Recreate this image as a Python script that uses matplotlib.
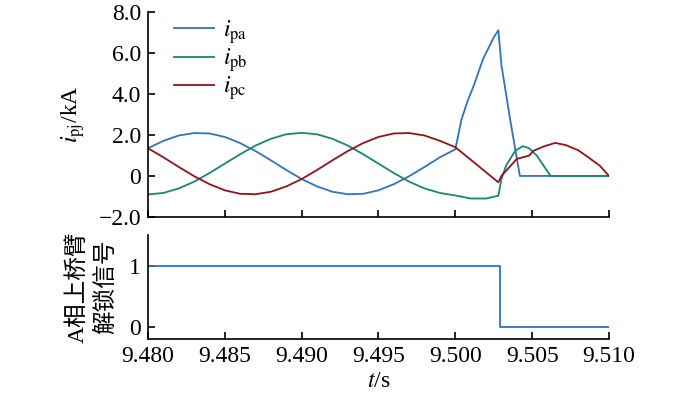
import matplotlib
matplotlib.use("Agg")
from matplotlib import pyplot as plt

plt.rcParams['font.family'] = ['Liberation Serif', 'Noto Sans CJK SC']
plt.rcParams['mathtext.fontset'] = 'stix'

# time (s) and currents (kA)
t_pa = [9.480, 9.481, 9.482, 9.483, 9.484, 9.485, 9.486, 9.487, 9.488, 9.489,
        9.490, 9.491, 9.492, 9.493, 9.494, 9.495, 9.496, 9.497, 9.498, 9.499,
        9.500, 9.5004, 9.5008, 9.5012, 9.5018, 9.5025, 9.5028, 9.5030, 9.5036,
        9.5042, 9.510]
i_pa = [1.35, 1.71, 1.97, 2.09, 2.07, 1.90, 1.60, 1.21, 0.76, 0.29,
        -0.15, -0.51, -0.77, -0.89, -0.87, -0.70, -0.40, -0.01, 0.44, 0.91,
        1.30, 2.75, 3.65, 4.40, 5.69, 6.75, 7.10, 5.40, 2.60,
        0.0, 0.0]

t_pb = [9.480, 9.481, 9.482, 9.483, 9.484, 9.485, 9.486, 9.487, 9.488, 9.489,
        9.490, 9.491, 9.492, 9.493, 9.494, 9.495, 9.496, 9.497, 9.498, 9.499,
        9.500, 9.501, 9.502, 9.5028, 9.5030, 9.5033, 9.5039, 9.5044, 9.5048,
        9.5053, 9.5062, 9.510]
i_pb = [-0.90, -0.83, -0.61, -0.28, 0.14, 0.60, 1.06, 1.48, 1.81, 2.03,
        2.10, 2.03, 1.81, 1.48, 1.06, 0.60, 0.14, -0.28, -0.61, -0.83,
        -0.95, -1.10, -1.10, -0.96, -0.15, 0.50, 1.23, 1.45, 1.35,
        0.99, 0.0, 0.0]

t_pc = [9.480, 9.481, 9.482, 9.483, 9.484, 9.485, 9.486, 9.487, 9.488, 9.489,
        9.490, 9.491, 9.492, 9.493, 9.494, 9.495, 9.496, 9.497, 9.498, 9.499,
        9.500, 9.5012, 9.5028, 9.5030, 9.5040, 9.5048, 9.5051, 9.5058, 9.5065,
        9.5072, 9.5080, 9.5085, 9.5094, 9.510]
i_pc = [1.35, 0.91, 0.44, -0.01, -0.40, -0.70, -0.87, -0.89, -0.77, -0.51,
        -0.15, 0.29, 0.76, 1.21, 1.60, 1.90, 2.07, 2.09, 1.97, 1.71,
        1.40, 0.67, -0.31, 0.0, 0.83, 0.99, 1.23, 1.45, 1.61,
        1.50, 1.25, 0.99, 0.50, 0.0]

# A-phase upper arm unlock signal
t_sig = [9.480, 9.5029, 9.5029, 9.510]
sig = [1, 1, 0, 0]

xticks = [9.480, 9.485, 9.490, 9.495, 9.500, 9.505, 9.510]
xticklabels = ['9.480', '9.485', '9.490', '9.495', '9.500', '9.505', '9.510']
yticks_top = [-2, 0, 2, 4, 6, 8]
yticklabels_top = ['\u22122.0', '0', '2.0', '4.0', '6.0', '8.0']

blue = '#2f72c8'
green = '#138a70'
red = '#9b1016'
fs = 17

fig = plt.figure(figsize=(7, 3.97), dpi=100)
ax1 = fig.add_axes([0.2114, 0.4534, 0.6586, 0.5171])
ax2 = fig.add_axes([0.2114, 0.1453, 0.6586, 0.2627])

ax1.plot(t_pa, i_pa, color=blue, lw=1.3, label=r'$i_{\rm pa}$')
ax1.plot(t_pb, i_pb, color=green, lw=1.3, label=r'$i_{\rm pb}$')
ax1.plot(t_pc, i_pc, color=red, lw=1.3, label=r'$i_{\rm pc}$')
ax1.set_xlim(9.480, 9.510)
ax1.set_ylim(-2, 8)
ax1.set_xticks(xticks)
ax1.set_xticklabels([])
ax1.set_yticks(yticks_top)
ax1.set_yticklabels(yticklabels_top)
ax1.set_ylabel(r'$i_{\rm pj}$/kA', fontsize=fs, labelpad=8)
leg = ax1.legend(loc='upper left', frameon=False, fontsize=fs, handlelength=1.7,
                 handletextpad=0.4, labelspacing=0.02, borderaxespad=0.0,
                 bbox_to_anchor=(0.035, 1.015))

ax2.plot(t_sig, sig, color=blue, lw=1.3)
ax2.set_xlim(9.480, 9.510)
ax2.set_ylim(-0.2, 1.5)
ax2.set_xticks(xticks)
ax2.set_xticklabels(xticklabels)
ax2.set_yticks([0, 1])
ax2.set_yticklabels(['0', '1'])
ax2.set_xlabel(r'$t$/s', fontsize=fs, labelpad=3)
ax2.set_ylabel('A相上桥臂\n解锁信号', fontsize=fs, linespacing=1.35, labelpad=9)

for ax in (ax1, ax2):
    ax.spines['top'].set_visible(False)
    ax.spines['right'].set_visible(False)
    ax.spines['left'].set_linewidth(1.2)
    ax.spines['bottom'].set_linewidth(1.2)
    ax.tick_params(direction='in', length=5, width=1.2, labelsize=fs, pad=5)

fig.savefig('out.png', dpi=100)
